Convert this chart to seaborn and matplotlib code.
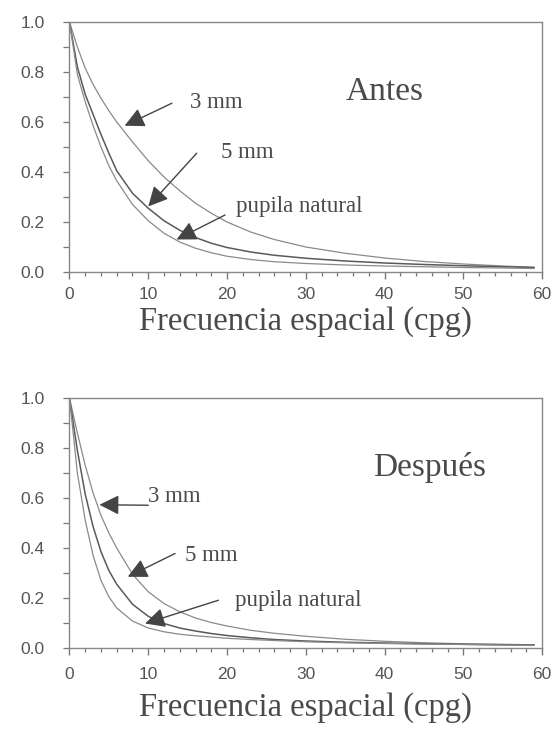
import numpy as np
import pandas as pd
import seaborn as sns
import matplotlib.pyplot as plt

# spatial frequency (cpg) where the curves were read
freq = [0, 1, 2, 3, 4, 5, 6, 8, 10, 12, 14, 16, 18, 20, 23, 26, 30, 35, 40, 45, 50, 55, 59]

# "Antes" panel
antes_3mm = [1.0, 0.90, 0.815, 0.75, 0.695, 0.645, 0.60, 0.52, 0.445, 0.38, 0.325, 0.275, 0.235,
             0.20, 0.16, 0.13, 0.10, 0.075, 0.056, 0.042, 0.032, 0.024, 0.019]
antes_5mm = [1.0, 0.82, 0.71, 0.63, 0.55, 0.475, 0.405, 0.315, 0.255, 0.205, 0.167, 0.138, 0.115,
             0.098, 0.08, 0.067, 0.055, 0.044, 0.036, 0.030, 0.025, 0.021, 0.018]
antes_nat = [1.0, 0.79, 0.68, 0.585, 0.50, 0.425, 0.365, 0.27, 0.205, 0.155, 0.12, 0.095, 0.077,
             0.063, 0.05, 0.041, 0.034, 0.028, 0.024, 0.021, 0.018, 0.016, 0.014]

# "Después" panel
despues_3mm = [1.0, 0.86, 0.73, 0.62, 0.53, 0.46, 0.40, 0.295, 0.225, 0.178, 0.145, 0.12, 0.102,
               0.088, 0.071, 0.059, 0.047, 0.035, 0.027, 0.021, 0.017, 0.015, 0.013]
despues_5mm = [1.0, 0.79, 0.615, 0.485, 0.385, 0.31, 0.255, 0.175, 0.127, 0.098, 0.08, 0.068, 0.058,
               0.05, 0.041, 0.034, 0.028, 0.023, 0.02, 0.017, 0.015, 0.013, 0.012]
despues_nat = [1.0, 0.70, 0.51, 0.37, 0.27, 0.205, 0.16, 0.108, 0.08, 0.065, 0.055, 0.049, 0.044,
               0.039, 0.034, 0.030, 0.025, 0.021, 0.018, 0.016, 0.014, 0.012, 0.011]

pupils = ["3 mm", "5 mm", "pupila natural"]
panel_titles = ["Antes", "Después"]

def long_frame(series):
    rows = []
    for name, vals in zip(pupils, series):
        for f, v in zip(freq, vals):
            rows.append({"freq": f, "mtf": v, "pupila": name})
    return pd.DataFrame(rows)

df_antes = long_frame([antes_3mm, antes_5mm, antes_nat])
df_despues = long_frame([despues_3mm, despues_5mm, despues_nat])

# label text position, arrow tail, arrow tip (data coords) for each panel
notes_antes = [
    ("3 mm", (15.3, 0.655), (13.0, 0.675), (7.0, 0.585)),
    ("5 mm", (19.3, 0.456), (16.15, 0.475), (10.0, 0.262)),
    ("pupila natural", (21.2, 0.241), (19.75, 0.228), (13.6, 0.13)),
]
notes_despues = [
    ("3 mm", (10.0, 0.584), (10.0, 0.571), (3.8, 0.573)),
    ("5 mm", (14.7, 0.35), (13.4, 0.378), (7.4, 0.285)),
    ("pupila natural", (21.0, 0.17), (18.9, 0.191), (9.6, 0.098)),
]

sns.set_style("ticks")
plt.rcParams['font.family'] = ['Liberation Sans', 'DejaVu Sans']

ink = "#4a4a4a"
serif = ['Liberation Serif', 'DejaVu Serif']

fig = plt.figure(figsize=(5.6, 7.3), dpi=100)
ax_top = fig.add_axes([0.1241, 0.6274, 0.8438, 0.3425])
ax_bot = fig.add_axes([0.1241, 0.1123, 0.8438, 0.3425])

palette = {"3 mm": "#8a8a8a", "5 mm": "#5a5a5a", "pupila natural": "#8a8a8a"}
widths = {"3 mm": 0.9, "5 mm": 1.1, "pupila natural": 0.9}

for ax, df, notes, title, xpad, lpad in [(ax_top, df_antes, notes_antes, panel_titles[0], 6, 3),
                                         (ax_bot, df_despues, notes_despues, panel_titles[1], 9, 7)]:
    for name in pupils:
        sns.lineplot(data=df[df["pupila"] == name], x="freq", y="mtf", ax=ax,
                     color=palette[name], lw=widths[name], legend=False)
    ax.set_xlim(0, 60)
    ax.set_ylim(0, 1.0)
    ax.set_xticks(range(0, 61, 10))
    ax.set_xticks(range(0, 61, 2), minor=True)
    ax.set_yticks(np.arange(0, 1.01, 0.2))
    ax.set_yticks(np.arange(0, 1.01, 0.1), minor=True)
    ax.set_xticklabels([str(v) for v in range(0, 61, 10)])
    ax.set_yticklabels([f"{v:.1f}" for v in np.arange(0, 1.01, 0.2)])
    ax.tick_params(axis="both", which="both", direction="out", colors="#777777",
                   labelcolor="#555555", labelsize=12.5)
    ax.tick_params(axis="x", which="major", length=5, width=1, pad=xpad)
    ax.tick_params(axis="x", which="minor", length=3, width=0.9)
    ax.tick_params(axis="y", which="both", length=4, width=0.9, pad=14)
    for sp in ax.spines.values():
        sp.set_color("#888888")
        sp.set_linewidth(1.0)
    ax.set_xlabel("Frecuencia espacial (cpg)", fontsize=23.5, family=serif, color=ink,
                  labelpad=lpad)
    ax.set_ylabel("")
    ax.text(35.0 if title == "Antes" else 38.5, 0.688, title, fontsize=24, family=serif,
            color=ink, va="baseline", ha="left")
    for label, txt_xy, tail, tip in notes:
        ax.text(txt_xy[0], txt_xy[1], label, fontsize=16.5, family=serif, color=ink,
                va="baseline", ha="left")
        ax.annotate("", xy=tip, xytext=tail,
                    arrowprops=dict(arrowstyle="-|>", mutation_scale=30, lw=1.0,
                                    color="#444444", shrinkA=0, shrinkB=0))

fig.savefig("out.png", dpi=100, facecolor="white")
